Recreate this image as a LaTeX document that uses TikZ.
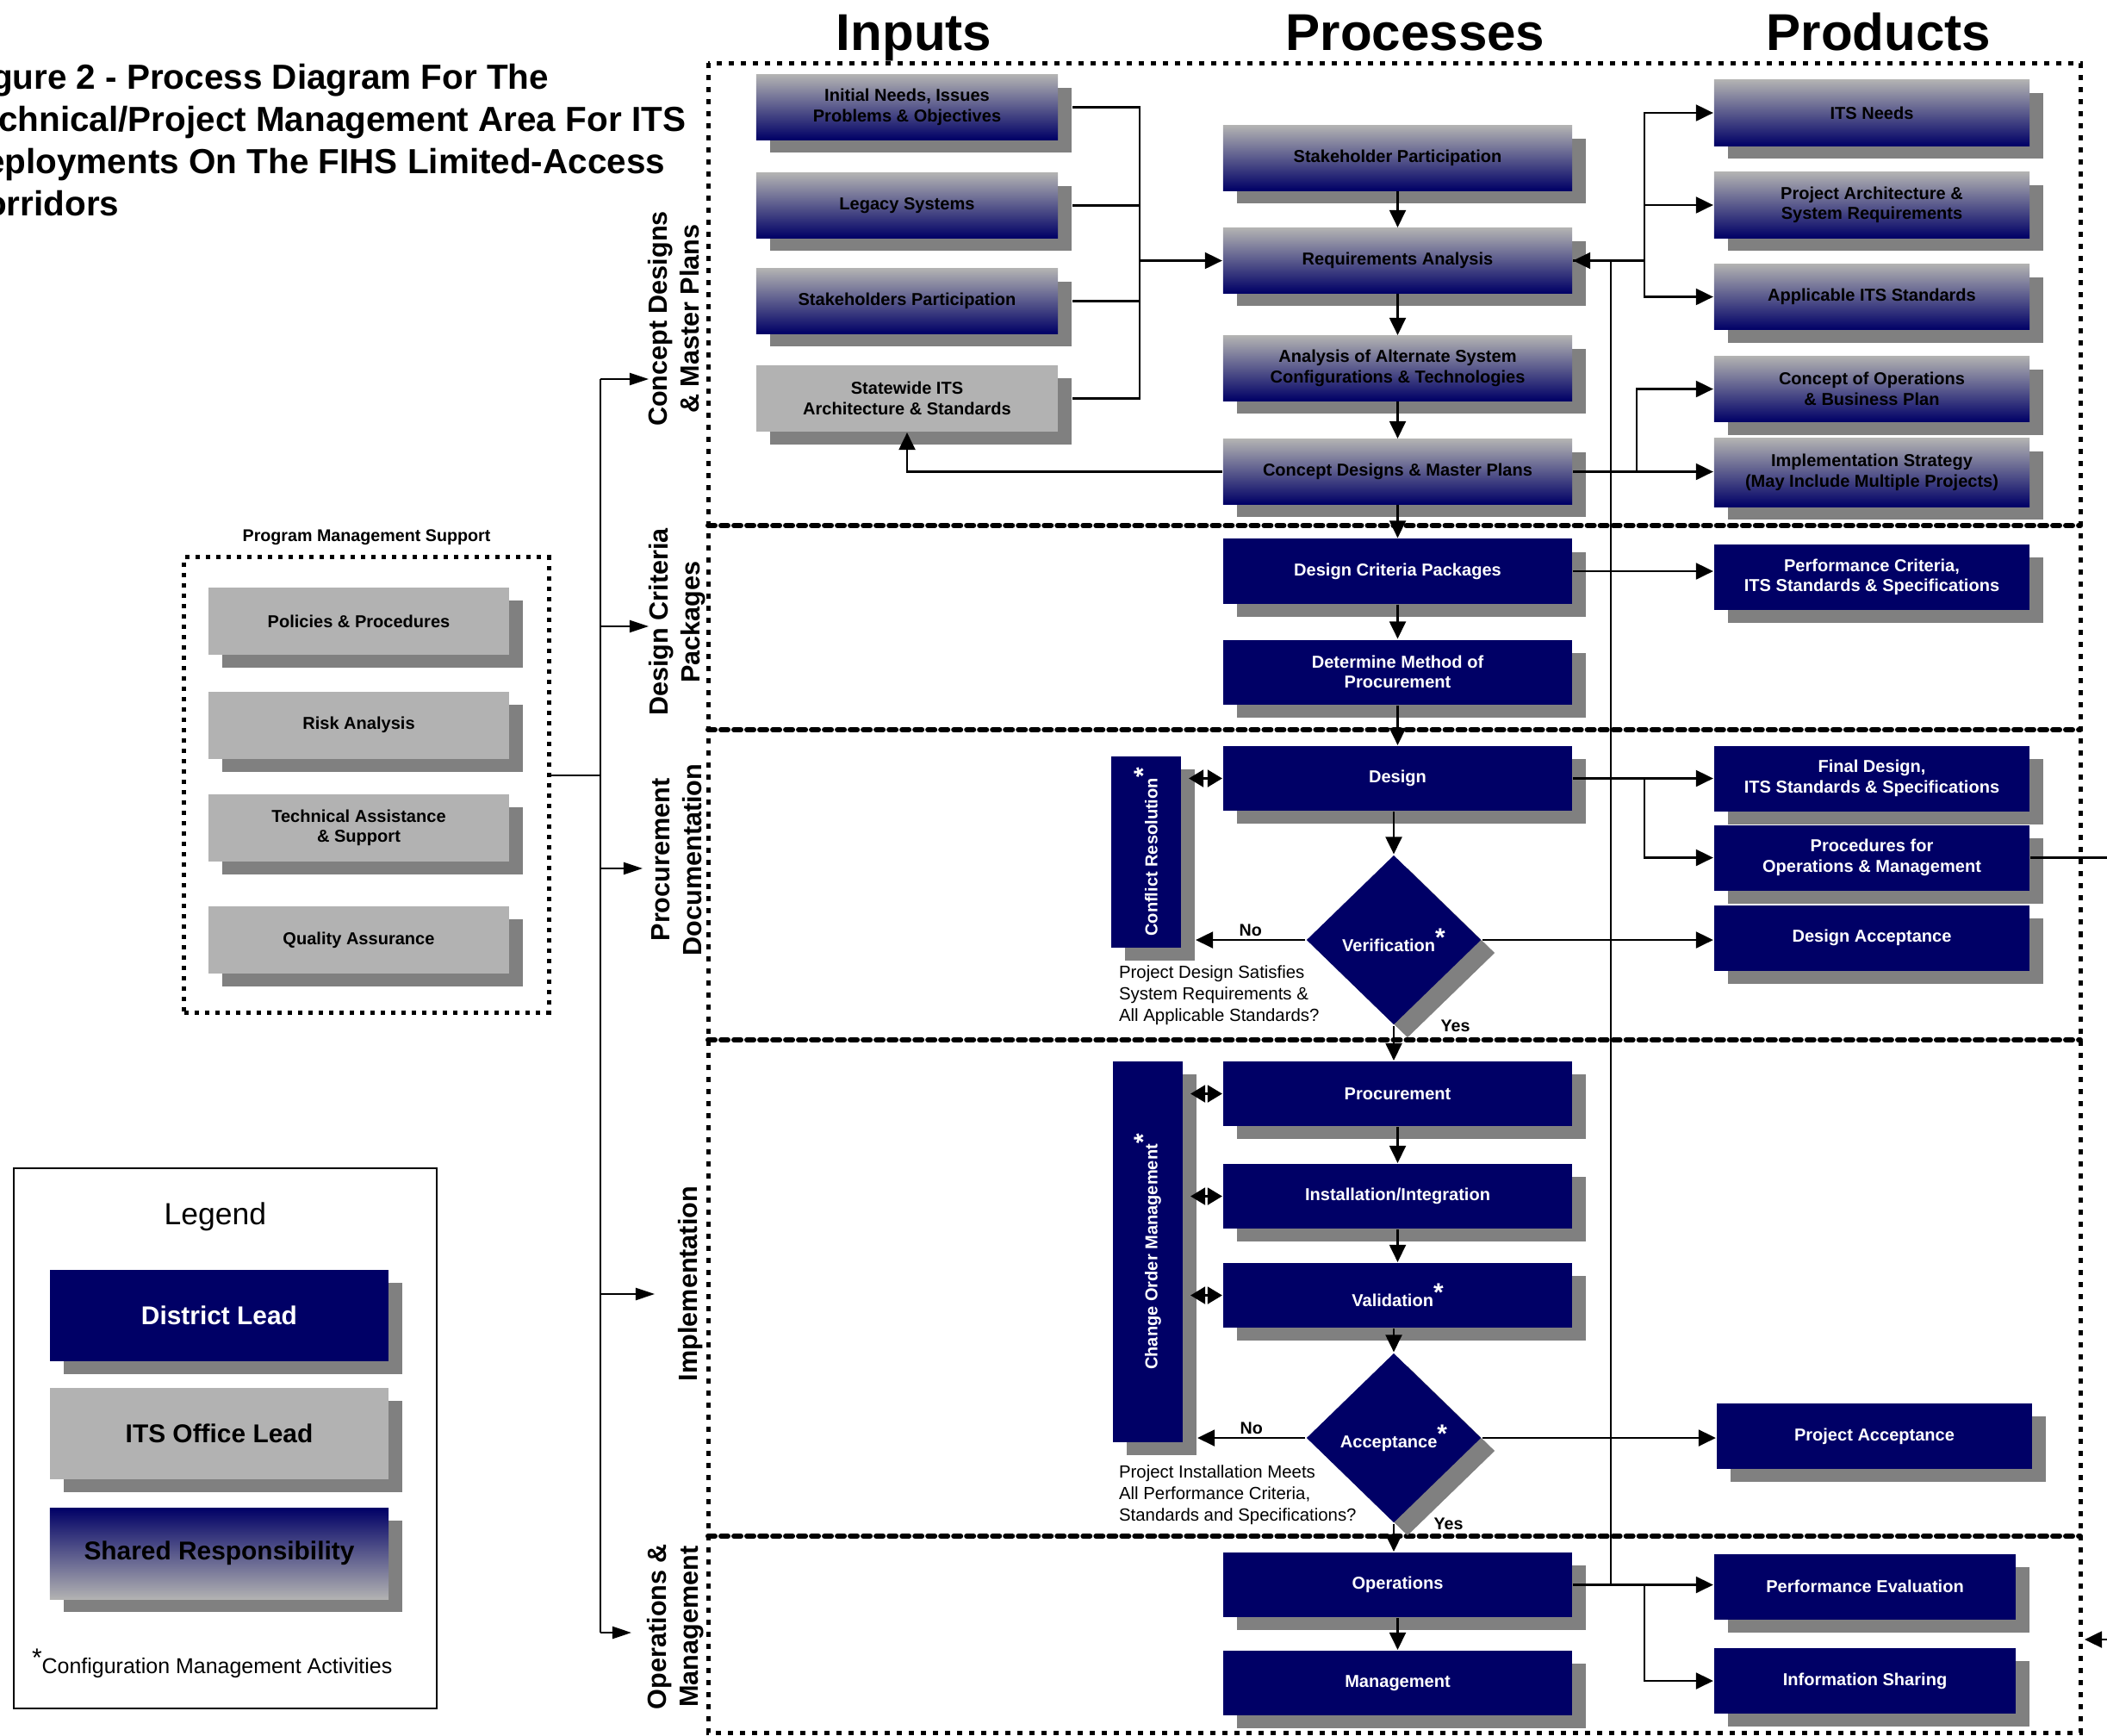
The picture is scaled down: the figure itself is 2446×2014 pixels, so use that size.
\documentclass[tikz,border=0pt]{standalone}
\usepackage{fontspec}
\setmainfont{Liberation Sans}
\usepackage{tikz}
\usetikzlibrary{arrows.meta, positioning, shapes.geometric, shadows, calc}

\definecolor{navy}{HTML}{000066}
\definecolor{ltgrey}{HTML}{B2B2B2}
\definecolor{shgrey}{HTML}{808080}
\newcommand{\cmstar}{\raisebox{0.3em}{\fontsize{8.5}{8.5}\selectfont *}}

\begin{document}
\begin{tikzpicture}[
    x=0.01cm, y=-0.01cm, semithick,
    >={Triangle[length=0.2cm, width=0.19cm]},
    box/.style={rectangle, inner sep=1pt, align=center,
        font=\fontsize{5.7}{6.7}\selectfont\bfseries,
        drop shadow={shadow xshift=0.16cm, shadow yshift=-0.15cm,
                     opacity=1, fill=shgrey}},
    lead/.style={box, fill=navy, text=white},
    office/.style={box, fill=ltgrey},
    shared/.style={box, top color=ltgrey, bottom color=navy},
    input/.style={minimum width=3.5cm, minimum height=0.75cm},
    proc/.style={minimum width=4.05cm, minimum height=0.75cm},
    prod/.style={minimum width=3.66cm, minimum height=0.76cm},
    pmitem/.style={minimum width=3.49cm, minimum height=0.78cm},
    legbox/.style={minimum width=3.93cm, minimum height=1.06cm,
        font=\fontsize{8.5}{10}\selectfont\bfseries},
    decision/.style={lead, diamond, aspect=1, inner sep=0pt,
        minimum width=2.03cm, minimum height=1.97cm},
    bar/.style={lead, minimum width=0.81cm},
    bartext/.style={rotate=90, text=white,
        font=\fontsize{5.7}{6.7}\selectfont\bfseries},
    lane/.style={rotate=90, align=center,
        font=\fontsize{8.7}{10.5}\selectfont\bfseries},
    header/.style={anchor=base, font=\fontsize{17.1}{20}\selectfont\bfseries},
    titlef/.style={anchor=base west, inner sep=0pt,
        font=\fontsize{11.5}{13.8}\selectfont\bfseries},
    lbl/.style={inner sep=1pt, font=\fontsize{5.6}{6.7}\selectfont\bfseries},
    question/.style={anchor=west, align=left, inner sep=0pt,
        font=\fontsize{5.8}{7.1}\selectfont},
    framedot/.style={line width=0.05cm, dash pattern=on 0.06cm off 0.08cm},
    lanesep/.style={line width=0.06cm, line cap=round,
        dash pattern=on 0.08cm off 0.07cm},
    lanearrow/.style={-{Triangle[length=0.22cm, width=0.14cm]}},
    twoway/.style={{Triangle[length=0.17cm, width=0.2cm]}-{Triangle[length=0.17cm, width=0.2cm]}}]

    \useasboundingbox (0,0) rectangle (2446,2014);

    % Title
    \foreach \ttl [count=\i] in {Figure 2 - Process Diagram For The,
        Technical/Project Management Area For ITS,
        Deployments On The FIHS Limited-Access, Corridors}
        \node[titlef] (title\i) at (-47,54+49*\i) {\ttl};

    % Column headers
    \node[header] (hinputs) at (1061,58) {Inputs};
    \node[header] (hprocesses) at (1643,58) {Processes};
    \node[header] (hproducts) at (2181,58) {Products};

    % Frame and lane separators
    \draw[framedot] (822,73) rectangle (2415,2011);
    \foreach \y in {610,847,1207,1783}
        \draw[lanesep] (822,\y) -- (2415,\y);

    % Lane labels
    \node[lane] (lane1) at (782,370) {Concept Designs\\\& Master Plans};
    \node[lane] (lane2) at (786,722) {Design Criteria\\Packages};
    \node[lane] (lane3) at (786,998) {Procurement\\Documentation};
    \node[lane] (lane4) at (802,1490) {Implementation};
    \node[lane] (lane5) at (784,1888) {Operations \&\\Management};

    % Inputs
    \node[shared, input] (needs) at (1053,124.5) {Initial Needs, Issues\\Problems \& Objectives};
    \node[shared, input] (legacy) at (1053,238.5) {Legacy Systems};
    \node[shared, input] (stake) at (1053,349.5) {Stakeholders Participation};
    \node[office, input, minimum height=0.77cm] (statewide) at (1053,462.5) {Statewide ITS\\Architecture \& Standards};

    % Processes
    \node[shared, proc] (partic) at (1622.5,183.5) {Stakeholder Participation};
    \node[shared, proc] (req) at (1622.5,302.5) {Requirements Analysis};
    \node[shared, proc] (alt) at (1622.5,427.5) {Analysis of Alternate System\\Configurations \& Technologies};
    \node[shared, proc] (cdmp) at (1622.5,547.5) {Concept Designs \& Master Plans};
    \node[lead, proc] (dcp) at (1622.5,663) {Design Criteria Packages};
    \node[lead, proc] (method) at (1622.5,780) {Determine Method of\\Procurement};
    \node[lead, proc] (design) at (1622.5,903.5) {Design};
    \node[decision] (verif) at (1618,1091) {Verification\cmstar};
    \node[lead, proc] (procure) at (1622.5,1269.5) {Procurement};
    \node[lead, proc] (install) at (1622.5,1388.5) {Installation/Integration};
    \node[lead, proc] (valid) at (1622.5,1503.5) {Validation\cmstar};
    \node[decision] (accept) at (1618,1669) {Acceptance\cmstar};
    \node[lead, proc] (ops) at (1622.5,1839.5) {Operations};
    \node[lead, proc] (mgmt) at (1622.5,1953.5) {Management};

    % Configuration management bars
    \node[bar, minimum height=2.22cm] (conflict) at (1330.5,989) {};
    \node[bartext] (conflicttext) at (conflict) {Conflict Resolution\cmstar};
    \node[bar, minimum height=4.42cm] (changeorder) at (1332.5,1453) {};
    \node[bartext] (changetext) at (changeorder) {Change Order Management\cmstar};

    % Questions
    \node[question] (qdesign) at (1298,1155) {Project Design Satisfies\\System Requirements \&\\All Applicable Standards?};
    \node[question] (qinstall) at (1298,1735) {Project Installation Meets\\All Performance Criteria,\\Standards and Specifications?};

    % Products
    \node[shared, prod] (itsneeds) at (2173,131) {ITS Needs};
    \node[shared, prod] (projarch) at (2173,238) {Project Architecture \&\\System Requirements};
    \node[shared, prod] (itsstd) at (2173,344.5) {Applicable ITS Standards};
    \node[shared, prod] (conops) at (2173,451.5) {Concept of Operations\\\& Business Plan};
    \node[shared, prod, minimum height=0.79cm] (implstrat) at (2173,548.5) {Implementation Strategy\\(May Include Multiple Projects)};
    \node[lead, prod] (perfcrit) at (2173,670) {Performance Criteria,\\ITS Standards \& Specifications};
    \node[lead, prod] (finaldes) at (2173,903.5) {Final Design,\\ITS Standards \& Specifications};
    \node[lead, prod] (procom) at (2173,995.5) {Procedures for\\Operations \& Management};
    \node[lead, prod] (desacc) at (2173,1088.5) {Design Acceptance};
    \node[lead, prod] (projacc) at (2176,1667) {Project Acceptance};
    \node[lead, prod, minimum width=3.5cm] (perfeval) at (2165,1841.5) {Performance Evaluation};
    \node[lead, prod, minimum width=3.5cm] (infoshare) at (2165,1951) {Information Sharing};

    % Program management support
    \node[draw, line width=0.05cm, dash pattern=on 0.05cm off 0.07cm,
          minimum width=4.23cm, minimum height=5.28cm] (pmsupport) at (425.5,911) {};
    \node[lbl, above=0.07cm of pmsupport] (pmtitle) {Program Management Support};
    \node[office, pmitem] (policies) at (416.5,721) {Policies \& Procedures};
    \node[office, pmitem] (risk) at (416.5,841.5) {Risk Analysis};
    \node[office, pmitem] (techassist) at (416.5,961) {Technical Assistance\\\& Support};
    \node[office, pmitem] (quality) at (416.5,1091) {Quality Assurance};

    % Legend
    \node[draw, minimum width=4.91cm, minimum height=6.27cm] (legend) at (261.5,1669.5) {};
    \node[font=\fontsize{10.1}{12}\selectfont] (legtitle) at (250,1412) {Legend};
    \node[lead, legbox] (distlead) at (254.5,1527) {District Lead};
    \node[office, legbox] (itslead) at (254.5,1663.5) {ITS Office Lead};
    \node[box, legbox, top color=navy, bottom color=ltgrey] (sharedresp) at (254.5,1803) {Shared Responsibility};
    \node[anchor=west, inner sep=0pt, font=\fontsize{7.1}{8.5}\selectfont] (cmnote) at (36,1931) {\cmstar Configuration Management Activities};

    % Program support to the lanes
    \coordinate (pmbr) at (697,900);
    \foreach \y/\x [count=\i] in {440/753,727/753,1008/746,1502/760,1895/733}
        \coordinate (lanein\i) at (\x,\y);
    \draw (pmsupport.east |- pmbr) -- (pmbr);
    \draw (lanein1 -| pmbr) -- (lanein5 -| pmbr);
    \foreach \i in {1,...,5}
        \draw[lanearrow] (lanein\i -| pmbr) -- (lanein\i);

    % Inputs to requirements analysis
    \coordinate (inbr) at (1323,302.5);
    \foreach \n in {needs,legacy,stake,statewide}
        \draw ($(\n.east)+(16,0)$) -| (inbr);
    \draw[->] (inbr) -- (req.west);

    % Process chain
    \draw[->] (partic) -- (req);
    \draw[->] (req) -- (alt);
    \draw[->] (alt) -- (cdmp);
    \draw[->] (cdmp) -- (dcp);
    \draw[->] (dcp) -- (method);
    \draw[->] (method) -- (design);
    \draw[->] (verif.north |- design.south) -- (verif.north);
    \draw[->] (verif.south) -- (verif.south |- procure.north);
    \draw[->] (procure) -- (install);
    \draw[->] (install) -- (valid);
    \draw[->] (accept.north |- valid.south) -- (accept.north);
    \draw[->] (accept.south) -- (accept.south |- ops.north);
    \draw[->] (ops) -- (mgmt);

    % Concept designs back to the statewide architecture
    \draw[->] (cdmp.west) -| (statewide.south);

    % Requirements analysis and its products
    \coordinate (reqbr) at (1909,302.5);
    \draw (req.east) -- (reqbr);
    \draw[->] (reqbr) |- (itsneeds.west);
    \draw[->] (reqbr) |- (projarch.west);
    \draw[->] (reqbr) |- (itsstd.west);
    \draw[->] (ops.east) -- ++(44,0) |- (req.east);

    % Concept designs products
    \coordinate (cdbr) at (1900,547.5);
    \draw[->] (cdmp.east) -- (cdmp.east -| implstrat.west);
    \draw[->] (cdbr) |- (conops.west);
    \draw[->] (dcp.east) -- (dcp.east -| perfcrit.west);

    % Design products
    \coordinate (desbr) at (1909,903.5);
    \draw[->] (design.east) -- (finaldes.west);
    \draw[->] (desbr) |- (procom.west);
    \draw (procom.east) -- ++(95,0);

    % Verification
    \draw[->] (verif.east) -- (verif.east -| desacc.west);
    \draw[->] (verif.west) -- ($(verif.west -| conflict.east)+(16,0)$)
        node[lbl, midway, above] {No};
    \node[lbl, right=0.5cm of verif.south] (veryes) {Yes};
    \draw[twoway] ($(conflict.east |- design.west)+(8,0)$) -- (design.west);

    % Implementation
    \foreach \n in {procure,install,valid}
        \draw[twoway] ($(changeorder.east |- \n.west)+(8,0)$) -- (\n.west);
    \draw[->] (accept.east) -- (accept.east -| projacc.west);
    \draw[->] (accept.west) -- ($(accept.west -| changeorder.east)+(16,0)$)
        node[lbl, midway, above] {No};
    \node[lbl, right=0.42cm of accept.south] (accyes) {Yes};

    % Operations products
    \coordinate (opsbr) at (1909,1839.5);
    \draw[->] (ops.east) -- (ops.east -| perfeval.west);
    \draw[->] (opsbr) |- (infoshare.west);
    \coordinate (offin) at (2446,1903);
    \draw[->] (offin) -- ++(-26,0);

\end{tikzpicture}
\end{document}
